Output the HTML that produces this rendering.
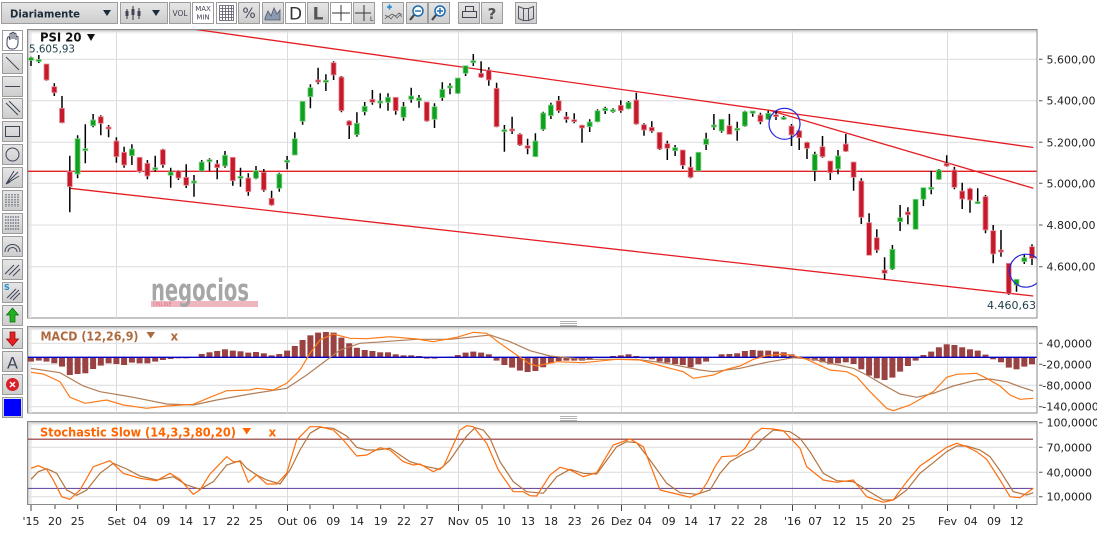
<!DOCTYPE html>
<html><head><meta charset="utf-8">
<style>
html,body{margin:0;padding:0;background:#fff;width:1097px;height:534px;overflow:hidden}
svg{display:block}
text{font-family:"DejaVu Sans","Liberation Sans",sans-serif}
</style></head><body>
<svg width="1097" height="534" viewBox="0 0 1097 534" xmlns="http://www.w3.org/2000/svg">
<defs>
<linearGradient id="gt" x1="0" y1="0" x2="0" y2="1"><stop offset="0" stop-color="#bdbdbd"/><stop offset="1" stop-color="#ffffff" stop-opacity="0"/></linearGradient>
<linearGradient id="gl" x1="0" y1="0" x2="1" y2="0"><stop offset="0" stop-color="#c4c4c4"/><stop offset="1" stop-color="#ffffff" stop-opacity="0"/></linearGradient>
<linearGradient id="gb" x1="0" y1="0" x2="0" y2="1"><stop offset="0" stop-color="#e6e6e6"/><stop offset="1" stop-color="#cdcdcd"/></linearGradient>
<clipPath id="cm"><rect x="28" y="30" width="1009" height="288"/></clipPath>
<clipPath id="cmacd"><rect x="28" y="327" width="1009" height="86"/></clipPath>
<clipPath id="cst"><rect x="28" y="422" width="1009" height="82"/></clipPath>
</defs>

<!-- TOP TOOLBAR -->
<g stroke="#9c9c9c" stroke-width="1">
<rect x="1.5" y="2.5" width="116" height="21" fill="url(#gb)"/>
<rect x="120.5" y="2.5" width="47" height="21" fill="url(#gb)"/>
<rect x="169.5" y="2.5" width="21" height="21" fill="url(#gb)"/>
<rect x="192.5" y="2.5" width="21" height="21" fill="#fff"/>
<rect x="216.5" y="2.5" width="20" height="21" fill="#fff"/>
<rect x="238.5" y="2.5" width="21" height="21" fill="url(#gb)"/>
<rect x="262.5" y="2.5" width="21" height="21" fill="url(#gb)"/>
<rect x="285.5" y="2.5" width="20" height="21" fill="#fff"/>
<rect x="307.5" y="2.5" width="21" height="21" fill="url(#gb)"/>
<rect x="330.5" y="2.5" width="21" height="21" fill="#fff"/>
<rect x="353.5" y="2.5" width="21" height="21" fill="url(#gb)"/>
<rect x="382.5" y="2.5" width="21" height="21" fill="url(#gb)"/>
<rect x="406.5" y="2.5" width="21" height="21" fill="url(#gb)"/>
<rect x="428.5" y="2.5" width="21" height="21" fill="url(#gb)"/>
<rect x="458.5" y="2.5" width="21" height="21" fill="url(#gb)"/>
<rect x="481.5" y="2.5" width="21" height="21" fill="url(#gb)"/>
<rect x="515.5" y="2.5" width="21" height="21" fill="url(#gb)"/>
</g>
<text x="10" y="17.5" font-size="11" font-weight="bold" fill="#1c2c3a" textLength="70" lengthAdjust="spacingAndGlyphs">Diariamente</text>
<path d="M103 10h8l-4 6z" fill="#1c2c3a"/>
<g stroke="#333" stroke-width="1"><path d="M127 9v10M133 6v14M139 8v11"/></g>
<g fill="#445"><rect x="125.5" y="11" width="3" height="5"/><rect x="131.5" y="9" width="3" height="6"/><rect x="137.5" y="11" width="3" height="5"/></g>
<path d="M152 10h8l-4 6z" fill="#1c2c3a"/>
<text x="180" y="16" font-size="7.5" fill="#445" text-anchor="middle">VOL</text>
<text x="203" y="11" font-size="7" fill="#445" text-anchor="middle">MAX</text>
<text x="203" y="19.5" font-size="7" fill="#445" text-anchor="middle">MIN</text>
<g stroke="#556" stroke-width="0.8" fill="none"><rect x="219.5" y="5.5" width="14" height="15"/><path d="M222.5 6v14M225.5 6v14M228.5 6v14M231.5 6v14M220 8.5h13M220 11.5h13M220 14.5h13M220 17.5h13"/></g>
<text x="249" y="18" font-size="14" fill="#445" text-anchor="middle">%</text>
<path d="M265 18l3-7 3 5 3-8 3 6 3-4v10h-15z" fill="#8a9ab0" stroke="#556" stroke-width="0.8"/>
<text x="295.5" y="19.5" font-size="17" fill="#333" text-anchor="middle">D</text>
<text x="318" y="19.5" font-size="17" font-weight="bold" fill="#555" text-anchor="middle">L</text>
<path d="M341 5v16M332 13h18" stroke="#333" stroke-width="1"/>
<path d="M364 5v16M355 13h16" stroke="#333" stroke-width="1"/><text x="370" y="21" font-size="6" fill="#333">L</text>
<path d="M387 7h5M389.5 4.5v5" stroke="#1a8ad0" stroke-width="1.6"/><path d="M385 19l3-3 3 3 3-4 3 3 3-3 2 2M385 15l3 2 4-3 4 2 3-3 3 2" stroke="#666" stroke-width="0.8" fill="none"/>
<circle cx="418" cy="11" r="5" fill="#fff" stroke="#1a6ab0" stroke-width="1.5"/><path d="M415 11h6" stroke="#1a6ab0" stroke-width="1.4"/><path d="M414 15l-4 5" stroke="#444" stroke-width="2.2"/>
<circle cx="440" cy="11" r="5" fill="#fff" stroke="#1a6ab0" stroke-width="1.5"/><path d="M437 11h6M440 8v6" stroke="#1a6ab0" stroke-width="1.4"/><path d="M436 15l-4 5" stroke="#444" stroke-width="2.2"/>
<g fill="none" stroke="#445" stroke-width="1"><rect x="462.5" y="11.5" width="14" height="6"/><rect x="465.5" y="6.5" width="8" height="5"/><path d="M465 17.5h8"/></g>
<text x="492" y="19" font-size="15" font-weight="bold" fill="#555" text-anchor="middle">?</text>
<g fill="none" stroke="#556" stroke-width="1"><path d="M518.5 6.5l5 2v12l-5-2zM533.5 6.5l-5 2v12l5-2zM523.5 8.5h5v12h-5z"/></g>

<!-- LEFT TOOLBAR -->
<g stroke="#9c9c9c" stroke-width="1" fill="url(#gb)">
<rect x="2.5" y="30.5" width="20" height="20" fill="#fff"/>
<rect x="2.5" y="53.5" width="20" height="20"/>
<rect x="2.5" y="76.5" width="20" height="20"/>
<rect x="2.5" y="98.5" width="20" height="20"/>
<rect x="2.5" y="121.5" width="20" height="20"/>
<rect x="2.5" y="144.5" width="20" height="20"/>
<rect x="2.5" y="167.5" width="20" height="20"/>
<rect x="2.5" y="190.5" width="20" height="20"/>
<rect x="2.5" y="213.5" width="20" height="20"/>
<rect x="2.5" y="236.5" width="20" height="20"/>
<rect x="2.5" y="259.5" width="20" height="20"/>
<rect x="2.5" y="282.5" width="20" height="20"/>
<rect x="2.5" y="305.5" width="20" height="20"/>
<rect x="2.5" y="328.5" width="20" height="20"/>
<rect x="2.5" y="351.5" width="20" height="20"/>
<rect x="2.5" y="374.5" width="20" height="20"/>
<rect x="2.5" y="397.5" width="20" height="20"/>
</g>
<g fill="none" stroke="#3e4658" stroke-width="1">
<path d="M7 42c0-4 1-6 2-5l1 3v-6c0-1 2-1 2 0v5-6c0-1 2-1 2 0v6-5c0-1 2-1 2 0v6-3c0-1 2-1 2 0v6c0 3-2 6-5 6h-2c-2 0-3-2-4-4z"/>
<path d="M6 57l13 13"/>
<path d="M5 86.5h15"/>
<path d="M6 103l12 12M9 101l11 11"/>
<rect x="5.5" y="126.5" width="14" height="10"/>
<circle cx="12.5" cy="154.5" r="6.5"/>
<path d="M6 184l12-12M6 184l13-8M6 184l8-13M6 184l4-2"/>
<path d="M6 194v13M9 194v13M12 194v13M15 194v13M18 194v13" stroke-dasharray="1.5 1"/>
<path d="M5 217h15M5 220h15M5 223h15M5 226h15M5 229h15" stroke-dasharray="1.5 1"/>
<path d="M5 252c0-10 15-10 15 0M8 252c0-6 9-6 9 0"/>
<path d="M5 274l9-9M9 275l10-10M13 276l7-7"/>
<path d="M7 298l9-9M10 299l9-9M13 300l7-7"/>
</g>
<text x="4" y="290" font-size="8" font-weight="bold" fill="#1a8ad0">S</text>
<path d="M12.5 308l6 7h-3.5v7h-5v-7h-3.5z" fill="#20b020" stroke="#0a6a0a" stroke-width="0.7"/>
<path d="M12.5 346l6-7h-3.5v-7h-5v7h-3.5z" fill="#e82020" stroke="#8a0a0a" stroke-width="0.7"/>
<text x="12.5" y="368.5" font-size="16" fill="#3e4658" text-anchor="middle">A</text>
<circle cx="12.5" cy="384.5" r="6.5" fill="#d8202a"/><path d="M10 382l5 5M15 382l-5 5" stroke="#fff" stroke-width="1.4"/>
<rect x="4" y="399" width="17" height="17" fill="#0000ff"/>

<!-- MAIN PANEL -->
<rect x="27.5" y="29.5" width="1009.5" height="288.5" fill="#fff" stroke="#8a8a8a"/>
<g stroke="#dcdcdc" stroke-width="1">
<path d="M28 59.3h1009M28 100.7h1009M28 142.3h1009M28 183.3h1009M28 225h1009M28 266.7h1009"/>
<path d="M31 30v288M116.5 30v288M287.5 30v288M458.5 30v288M621.5 30v288M792.5 30v288M947.5 30v288"/>
</g>
<rect x="28" y="30" width="1009" height="5" fill="url(#gt)"/>
<rect x="28" y="30" width="4" height="288" fill="url(#gl)"/>

<!-- watermark -->
<rect x="151" y="301" width="107" height="6" fill="#f0b6c0"/>
<text x="151" y="300.5" font-family="Liberation Sans,sans-serif" font-size="30" font-weight="bold" fill="#a6a6a6" textLength="98" lengthAdjust="spacingAndGlyphs">negocios</text>
<text x="153" y="306" font-size="5" fill="#d87a88">ONLINE</text>

<g clip-path="url(#cm)">
<!-- trend lines -->
<g stroke="#e41e24" stroke-width="1.3" fill="none">
<path d="M27 171.3h1010"/>
<path d="M196 29.5L1033.3 147.5"/>
<path d="M770 110.4L1033.3 188.3"/>
<path d="M70 188.3L1033.3 296"/>
</g>
<!-- wicks -->
<path stroke="#000" stroke-width="1.5" fill="none" d="M31 56.7V66M38.8 55V63M46.5 64V80.7M54.3 83.3V96M62 96V123.3M69.8 155.7V212.3M77.6 135.3V178.3M85.3 124.3V163.3M93.1 114V127.3M100.8 115.3V135.3M108.6 125V137.3M116.4 137.3V162.7M124.1 146.7V167.7M131.9 144.3V165M139.6 157.3V172.7M147.4 160V179.3M155.2 155.7V171.7M162.9 148.7V167.7M170.7 167.7V187.7M178.4 170V180M186.2 164.3V188M194 175V196.7M201.7 160V171.7M209.5 158.3V170.7M217.2 160V179.3M225 151V167.7M232.8 157.3V185.7M240.5 167.7V186.7M248.3 173.3V195.7M256 166V179.3M263.8 169V191.7M271.6 190.7V205.7M279.3 172.7V191.7M287.1 156V169.3M294.8 132.3V155.3M302.6 101.3V124.7M310.4 84.3V108.3M318.1 67.7V84.3M325.9 74.3V91M333.6 61.3V80M341.4 76V112.3M349.2 120.3V139M356.9 112.3V136.7M364.7 102V115.3M372.4 90V104.7M380.2 93.3V108.3M388 93.3V110.7M395.7 97.3V114.7M403.5 102V120.7M411.2 87.7V102.7M419 95V107.7M426.8 102V121.7M434.5 103.3V128M442.3 82.3V100.7M450 83.3V94.3M457.8 78V94M465.6 65.7V76M473.3 54V66M481.1 61.3V78M488.8 67.3V85.7M496.6 82.7V127.3M504.4 125V151.7M512.1 116.7V134M519.9 133.3V146M527.6 138.7V154.3M535.4 133.3V156.7M543.2 111.7V130.7M550.9 102.7V119M558.7 96V112.7M566.4 112V122.7M574.2 113.3V123.3M582 124.7V142.7M589.7 119.3V132M597.5 109.3V122.3M605.2 106.7V114M613 108.3V112.7M620.8 100.3V112.7M628.5 101V109.3M636.3 92.7V124.7M644 123.3V135.7M651.8 121.3V132.7M659.6 132.3V150M667.3 140.7V160M675.1 145V156M682.8 150V169M690.6 156.7V178.3M698.4 152.3V171M706.1 132.7V150M713.9 114V130M721.6 119.3V132.7M729.4 114V134.3M737.2 121.7V140.7M744.9 110.7V126.7M752.7 111V116.7M760.4 112.7V124.3M768.2 110.7V120M776 110.7V120M783.7 116V120M791.5 124V146M799.2 130V150M807 141.7V159M814.8 151.7V181M822.5 136V157.7M830.3 161V180M838 150V174.3M845.8 134V152M853.6 162V190.7M861.3 178.3V224M869.1 213.3V255.3M876.8 229.3V252.7M884.6 257.3V279.3M892.4 245V270M900.1 205V231M907.9 207.3V224.3M915.6 199.3V229.3M923.4 187.7V206M931.2 170.7V194.3M938.9 169V180M946.7 155.3V166.7M954.4 166.7V189.3M962.2 182.7V209M970 187.7V212.7M977.7 188.3V203.3M985.5 195V233.3M993.2 225V263.3M1001 230V256.7M1008.8 263.3V295M1016.5 279.3V291.7M1024.3 254.3V264M1032 244.3V265"/>
<!-- red bodies -->
<g fill="#c61a2a" stroke="#e896a0" stroke-width="0.8">
<rect x="44" y="64" width="5" height="16"/>
<rect x="51.8" y="86.7" width="5" height="6"/>
<rect x="59.5" y="108.3" width="5" height="14.4"/>
<rect x="67.3" y="171.7" width="5" height="15"/>
<rect x="98.3" y="116.7" width="5" height="6.6"/>
<rect x="106.1" y="127" width="5" height="2"/>
<rect x="113.9" y="141" width="5" height="15.7"/>
<rect x="121.6" y="152.3" width="5" height="12.7"/>
<rect x="137.1" y="157.3" width="5" height="14.4"/>
<rect x="144.9" y="163.3" width="5" height="12.7"/>
<rect x="160.4" y="149.7" width="5" height="15"/>
<rect x="175.9" y="170.7" width="5" height="7.3"/>
<rect x="183.7" y="177.3" width="5" height="8"/>
<rect x="214.7" y="164" width="5" height="3.7"/>
<rect x="230.3" y="157.3" width="5" height="23.4"/>
<rect x="245.8" y="178" width="5" height="13.7"/>
<rect x="261.3" y="172.3" width="5" height="17.7"/>
<rect x="269.1" y="198.3" width="5" height="6.7"/>
<rect x="315.6" y="80" width="5" height="2"/>
<rect x="331.1" y="62.7" width="5" height="12.3"/>
<rect x="338.9" y="77" width="5" height="33.7"/>
<rect x="346.7" y="121" width="5" height="4.3"/>
<rect x="369.9" y="99.3" width="5" height="3"/>
<rect x="393.2" y="97.3" width="5" height="13.4"/>
<rect x="424.3" y="102" width="5" height="19"/>
<rect x="478.6" y="73.3" width="5" height="4"/>
<rect x="486.3" y="70" width="5" height="10"/>
<rect x="494.1" y="88.3" width="5" height="38.4"/>
<rect x="509.6" y="129" width="5" height="2"/>
<rect x="517.4" y="134.3" width="5" height="10.7"/>
<rect x="525.1" y="145.7" width="5" height="2.6"/>
<rect x="556.2" y="100.7" width="5" height="10"/>
<rect x="563.9" y="116.7" width="5" height="2.6"/>
<rect x="571.7" y="119.7" width="5" height="2"/>
<rect x="579.5" y="125.3" width="5" height="2.7"/>
<rect x="618.3" y="105.3" width="5" height="5.4"/>
<rect x="633.8" y="100" width="5" height="24"/>
<rect x="641.5" y="124.7" width="5" height="5.3"/>
<rect x="649.3" y="127.3" width="5" height="3.7"/>
<rect x="657.1" y="132.3" width="5" height="16.7"/>
<rect x="664.8" y="143.7" width="5" height="4.6"/>
<rect x="680.3" y="150" width="5" height="15.3"/>
<rect x="688.1" y="167.3" width="5" height="10"/>
<rect x="726.9" y="125.7" width="5" height="8.6"/>
<rect x="757.9" y="115" width="5" height="6.7"/>
<rect x="773.5" y="114.7" width="5" height="2"/>
<rect x="789" y="126" width="5" height="9"/>
<rect x="796.7" y="130.7" width="5" height="7"/>
<rect x="804.5" y="142.3" width="5" height="6"/>
<rect x="820" y="146.7" width="5" height="10"/>
<rect x="827.8" y="161" width="5" height="11.7"/>
<rect x="843.3" y="144" width="5" height="7.3"/>
<rect x="851.1" y="162" width="5" height="15.3"/>
<rect x="858.8" y="181" width="5" height="36.3"/>
<rect x="866.6" y="222.7" width="5" height="32.6"/>
<rect x="874.3" y="237.7" width="5" height="12.3"/>
<rect x="882.1" y="270" width="5" height="3.3"/>
<rect x="905.4" y="212" width="5" height="2.7"/>
<rect x="944.2" y="163.3" width="5" height="2.7"/>
<rect x="951.9" y="170" width="5" height="17.3"/>
<rect x="959.7" y="191" width="5" height="8"/>
<rect x="967.5" y="188.7" width="5" height="11.3"/>
<rect x="983" y="196.7" width="5" height="33.3"/>
<rect x="990.7" y="230.7" width="5" height="23.3"/>
<rect x="998.5" y="250" width="5" height="2"/>
<rect x="1006.3" y="263.3" width="5" height="30.7"/>
<rect x="1029.5" y="246.7" width="5" height="11.6"/>
</g>
<!-- green bodies -->
<g fill="#10a020" stroke="#86d48c" stroke-width="0.8">
<rect x="28.5" y="57.7" width="5" height="2.6"/>
<rect x="36.3" y="59.5" width="5" height="2"/>
<rect x="75.1" y="138.7" width="5" height="35.3"/>
<rect x="82.8" y="148.7" width="5" height="2"/>
<rect x="90.6" y="120" width="5" height="5.7"/>
<rect x="129.4" y="149" width="5" height="6.7"/>
<rect x="152.7" y="167.7" width="5" height="2"/>
<rect x="168.2" y="172" width="5" height="3.3"/>
<rect x="191.5" y="181" width="5" height="2"/>
<rect x="199.2" y="162" width="5" height="9"/>
<rect x="207" y="159.7" width="5" height="2"/>
<rect x="222.5" y="155.3" width="5" height="10.7"/>
<rect x="238" y="176.3" width="5" height="2"/>
<rect x="253.5" y="170.7" width="5" height="7.6"/>
<rect x="276.8" y="174" width="5" height="14.3"/>
<rect x="284.6" y="160.3" width="5" height="2"/>
<rect x="292.3" y="138.7" width="5" height="16.3"/>
<rect x="300.1" y="101.3" width="5" height="20"/>
<rect x="307.9" y="87.7" width="5" height="9"/>
<rect x="323.4" y="80.3" width="5" height="2"/>
<rect x="354.4" y="123.3" width="5" height="11.4"/>
<rect x="362.2" y="106.3" width="5" height="5.4"/>
<rect x="377.7" y="101" width="5" height="2"/>
<rect x="385.5" y="97.3" width="5" height="5"/>
<rect x="401" y="106.7" width="5" height="10.6"/>
<rect x="408.7" y="96" width="5" height="3.3"/>
<rect x="416.5" y="98" width="5" height="2.7"/>
<rect x="432" y="106.7" width="5" height="12.6"/>
<rect x="439.8" y="89.3" width="5" height="8.4"/>
<rect x="447.5" y="86" width="5" height="2"/>
<rect x="455.3" y="78" width="5" height="15.3"/>
<rect x="463.1" y="65.7" width="5" height="7.6"/>
<rect x="470.8" y="60.7" width="5" height="2"/>
<rect x="501.9" y="129.7" width="5" height="2"/>
<rect x="532.9" y="141" width="5" height="15.7"/>
<rect x="540.7" y="113" width="5" height="16.3"/>
<rect x="548.4" y="105" width="5" height="10.7"/>
<rect x="587.2" y="122" width="5" height="4.7"/>
<rect x="595" y="110.7" width="5" height="11"/>
<rect x="602.7" y="108.3" width="5" height="2.4"/>
<rect x="610.5" y="109.7" width="5" height="2"/>
<rect x="626" y="102.3" width="5" height="6.4"/>
<rect x="672.6" y="147.7" width="5" height="3"/>
<rect x="695.9" y="152.3" width="5" height="18.7"/>
<rect x="703.6" y="139" width="5" height="5.5"/>
<rect x="711.4" y="125" width="5" height="2"/>
<rect x="719.1" y="119.3" width="5" height="11.7"/>
<rect x="734.7" y="128.3" width="5" height="2"/>
<rect x="742.4" y="111.7" width="5" height="14.3"/>
<rect x="750.2" y="111" width="5" height="2.3"/>
<rect x="765.7" y="113.3" width="5" height="6"/>
<rect x="781.2" y="117.3" width="5" height="2"/>
<rect x="812.3" y="154.3" width="5" height="16.4"/>
<rect x="835.5" y="156" width="5" height="13"/>
<rect x="889.9" y="249.3" width="5" height="19.7"/>
<rect x="897.6" y="217.7" width="5" height="4"/>
<rect x="913.1" y="199.3" width="5" height="30"/>
<rect x="920.9" y="187.7" width="5" height="11.6"/>
<rect x="928.7" y="187.3" width="5" height="2"/>
<rect x="936.4" y="170" width="5" height="9.3"/>
<rect x="975.2" y="201.7" width="5" height="2"/>
<rect x="1014" y="279.3" width="5" height="5.7"/>
<rect x="1021.8" y="257.7" width="5" height="4"/>
</g>
<!-- circles -->
<circle cx="784.5" cy="123.8" r="15.5" fill="none" stroke="#2424e0" stroke-width="1.2"/>
<circle cx="1026" cy="270.7" r="16.5" fill="none" stroke="#2424e0" stroke-width="1.2"/>
</g>
<line x1="1037" y1="29" x2="1037" y2="318" stroke="#8a8a8a"/>

<text x="40" y="41.7" font-size="12.5" font-weight="bold" fill="#111" textLength="41.5" lengthAdjust="spacingAndGlyphs">PSI 20</text>
<path d="M87 34h8l-4 7z" fill="#111"/>
<text x="29" y="52.5" font-size="11" fill="#1c3c48" textLength="46" lengthAdjust="spacingAndGlyphs">5.605,93</text>
<text x="987" y="309" font-size="11" fill="#1c3c48" textLength="49" lengthAdjust="spacingAndGlyphs">4.460,63</text>

<!-- main right axis -->
<g stroke="#555" stroke-width="1"><path d="M1039 59.3h3.5M1039 100.7h3.5M1039 142.3h3.5M1039 183.3h3.5M1039 225h3.5M1039 266.7h3.5"/></g>
<g font-size="11" fill="#222">
<text x="1046.5" y="63.3">5.600,00</text>
<text x="1046.5" y="104.7">5.400,00</text>
<text x="1046.5" y="146.3">5.200,00</text>
<text x="1046.5" y="187.3">5.000,00</text>
<text x="1046.5" y="229">4.800,00</text>
<text x="1046.5" y="270.7">4.600,00</text>
</g>

<!-- grips -->
<g stroke="#9a9a9a" stroke-width="0.8"><path d="M560 321.5h17M560 323.5h17M560 325.5h17M560 416.5h17M560 418.5h17M560 420.5h17"/></g>

<!-- MACD PANEL -->
<rect x="27.5" y="326.5" width="1009.5" height="86.5" fill="#fff" stroke="#8a8a8a"/>
<g stroke="#dcdcdc" stroke-width="1">
<path d="M28 343.3h1009M28 364.3h1009M28 385.3h1009M28 406.7h1009"/>
<path d="M31 327v86M116.5 327v86M287.5 327v86M458.5 327v86M621.5 327v86M792.5 327v86M947.5 327v86"/>
</g>
<rect x="28" y="327" width="1009" height="5" fill="url(#gt)"/>
<rect x="28" y="327" width="4" height="86" fill="url(#gl)"/>
<g clip-path="url(#cmacd)">
<g fill="#9a4242">
<rect x="28" y="357.3" width="6" height="4.3"/>
<rect x="35.8" y="357.3" width="6" height="3.3"/>
<rect x="43.5" y="357.3" width="6" height="4.3"/>
<rect x="51.3" y="357.3" width="6" height="6"/>
<rect x="59" y="357.3" width="6" height="9.3"/>
<rect x="66.8" y="357.3" width="6" height="17.7"/>
<rect x="74.6" y="357.3" width="6" height="16.7"/>
<rect x="82.3" y="357.3" width="6" height="16"/>
<rect x="90.1" y="357.3" width="6" height="11.7"/>
<rect x="97.8" y="357.3" width="6" height="8.3"/>
<rect x="105.6" y="357.3" width="6" height="6"/>
<rect x="113.4" y="357.3" width="6" height="6.7"/>
<rect x="121.1" y="357.3" width="6" height="7.7"/>
<rect x="128.9" y="357.3" width="6" height="5.3"/>
<rect x="136.6" y="357.3" width="6" height="6"/>
<rect x="144.4" y="357.3" width="6" height="6"/>
<rect x="152.2" y="357.3" width="6" height="4.3"/>
<rect x="159.9" y="357.3" width="6" height="2.7"/>
<rect x="167.7" y="357.3" width="6" height="1.7"/>
<rect x="175.4" y="357.3" width="6" height="1"/>
<rect x="183.2" y="357.3" width="6" height="1"/>
<rect x="198.7" y="354" width="6" height="3.3"/>
<rect x="206.5" y="352.3" width="6" height="5"/>
<rect x="214.2" y="351" width="6" height="6.3"/>
<rect x="222" y="349.3" width="6" height="8"/>
<rect x="229.8" y="350.6" width="6" height="6.7"/>
<rect x="237.5" y="351.3" width="6" height="6"/>
<rect x="245.3" y="352.6" width="6" height="4.7"/>
<rect x="253" y="352" width="6" height="5.3"/>
<rect x="260.8" y="353.3" width="6" height="4"/>
<rect x="268.6" y="355.3" width="6" height="2"/>
<rect x="276.3" y="354" width="6" height="3.3"/>
<rect x="284.1" y="350.6" width="6" height="6.7"/>
<rect x="291.8" y="346" width="6" height="11.3"/>
<rect x="299.6" y="340" width="6" height="17.3"/>
<rect x="307.4" y="335.3" width="6" height="22"/>
<rect x="315.1" y="332.6" width="6" height="24.7"/>
<rect x="322.9" y="332" width="6" height="25.3"/>
<rect x="330.6" y="332.6" width="6" height="24.7"/>
<rect x="338.4" y="337.6" width="6" height="19.7"/>
<rect x="346.2" y="343.3" width="6" height="14"/>
<rect x="353.9" y="347.8" width="6" height="9.5"/>
<rect x="361.7" y="350" width="6" height="7.3"/>
<rect x="369.4" y="351" width="6" height="6.3"/>
<rect x="377.2" y="352.3" width="6" height="5"/>
<rect x="385" y="352.3" width="6" height="5"/>
<rect x="392.7" y="354.3" width="6" height="3"/>
<rect x="400.5" y="355.3" width="6" height="2"/>
<rect x="408.2" y="355.3" width="6" height="2"/>
<rect x="416" y="356" width="6" height="1.3"/>
<rect x="423.8" y="357.3" width="6" height="1.3"/>
<rect x="431.5" y="357.3" width="6" height="1.3"/>
<rect x="447" y="356.6" width="6" height="0.7"/>
<rect x="454.8" y="355" width="6" height="2.3"/>
<rect x="462.6" y="352.6" width="6" height="4.7"/>
<rect x="470.3" y="351.6" width="6" height="5.7"/>
<rect x="478.1" y="352.6" width="6" height="4.7"/>
<rect x="485.8" y="354.3" width="6" height="3"/>
<rect x="493.6" y="357.3" width="6" height="3.3"/>
<rect x="501.4" y="357.3" width="6" height="7.7"/>
<rect x="509.1" y="357.3" width="6" height="10.3"/>
<rect x="516.9" y="357.3" width="6" height="13.3"/>
<rect x="524.6" y="357.3" width="6" height="14.7"/>
<rect x="532.4" y="357.3" width="6" height="13.7"/>
<rect x="540.2" y="357.3" width="6" height="10"/>
<rect x="547.9" y="357.3" width="6" height="6"/>
<rect x="555.7" y="357.3" width="6" height="3.7"/>
<rect x="563.4" y="357.3" width="6" height="3.3"/>
<rect x="571.2" y="357.3" width="6" height="3.3"/>
<rect x="579" y="357.3" width="6" height="3.3"/>
<rect x="586.7" y="357.3" width="6" height="2.7"/>
<rect x="610" y="356" width="6" height="1.3"/>
<rect x="617.8" y="355.3" width="6" height="2"/>
<rect x="625.5" y="354.3" width="6" height="3"/>
<rect x="633.3" y="356" width="6" height="1.3"/>
<rect x="641" y="357.3" width="6" height="1"/>
<rect x="648.8" y="357.3" width="6" height="2"/>
<rect x="656.6" y="357.3" width="6" height="4.3"/>
<rect x="664.3" y="357.3" width="6" height="5.3"/>
<rect x="672.1" y="357.3" width="6" height="6.7"/>
<rect x="679.8" y="357.3" width="6" height="7.7"/>
<rect x="687.6" y="357.3" width="6" height="10"/>
<rect x="695.4" y="357.3" width="6" height="7"/>
<rect x="703.1" y="357.3" width="6" height="4.3"/>
<rect x="718.6" y="354.3" width="6" height="3"/>
<rect x="726.4" y="354" width="6" height="3.3"/>
<rect x="734.2" y="353.3" width="6" height="4"/>
<rect x="741.9" y="351" width="6" height="6.3"/>
<rect x="749.7" y="350" width="6" height="7.3"/>
<rect x="757.4" y="350.6" width="6" height="6.7"/>
<rect x="765.2" y="350.6" width="6" height="6.7"/>
<rect x="773" y="351.6" width="6" height="5.7"/>
<rect x="780.7" y="352.3" width="6" height="5"/>
<rect x="788.5" y="354.3" width="6" height="3"/>
<rect x="796.2" y="356.6" width="6" height="0.7"/>
<rect x="804" y="357.3" width="6" height="1.3"/>
<rect x="811.8" y="357.3" width="6" height="3.3"/>
<rect x="819.5" y="357.3" width="6" height="5"/>
<rect x="827.3" y="357.3" width="6" height="7"/>
<rect x="835" y="357.3" width="6" height="6"/>
<rect x="842.8" y="357.3" width="6" height="5"/>
<rect x="850.6" y="357.3" width="6" height="6.7"/>
<rect x="858.3" y="357.3" width="6" height="12"/>
<rect x="866.1" y="357.3" width="6" height="18.3"/>
<rect x="873.8" y="357.3" width="6" height="21"/>
<rect x="881.6" y="357.3" width="6" height="22.7"/>
<rect x="889.4" y="357.3" width="6" height="20.3"/>
<rect x="897.1" y="357.3" width="6" height="14.3"/>
<rect x="904.9" y="357.3" width="6" height="8.7"/>
<rect x="912.6" y="357.3" width="6" height="3.3"/>
<rect x="920.4" y="355" width="6" height="2.3"/>
<rect x="928.2" y="351.6" width="6" height="5.7"/>
<rect x="935.9" y="347.3" width="6" height="10"/>
<rect x="943.7" y="344.3" width="6" height="13"/>
<rect x="951.4" y="345" width="6" height="12.3"/>
<rect x="959.2" y="347.3" width="6" height="10"/>
<rect x="967" y="349.3" width="6" height="8"/>
<rect x="974.7" y="350.6" width="6" height="6.7"/>
<rect x="982.5" y="354.6" width="6" height="2.7"/>
<rect x="990.2" y="357.3" width="6" height="2"/>
<rect x="998" y="357.3" width="6" height="5"/>
<rect x="1005.8" y="357.3" width="6" height="10.3"/>
<rect x="1013.5" y="357.3" width="6" height="12"/>
<rect x="1021.3" y="357.3" width="6" height="9.3"/>
<rect x="1029" y="357.3" width="6" height="7"/>
</g>
<path d="M28 357.3h1009" stroke="#0000c8" stroke-width="1.3"/>
<polyline fill="none" stroke="#b27e58" stroke-width="1.2" points="31,368.3 60,372.7 83.3,386 100,391.7 133.3,397.3 166.7,404 193.3,405 216.7,400 250,394 286.7,388.3 306.7,375 326.7,360 340,350 360,343.3 383.3,341.7 416.7,339.3 450,339.3 490,335 510,341.7 530,350.7 550,356 583.3,359.3 616.7,359.3 636.7,359.3 666.7,363.3 700,370 713.3,371.7 740,368.3 766.7,362.3 793.3,357.7 813.3,359.3 833.3,364 853.3,368.3 866.7,375 886.7,386.7 900,394 916.7,397.3 933.3,393.3 953.3,386 976.7,380 990,379 1006.7,381.7 1020,386.7 1033.3,391"/>
<polyline fill="none" stroke="#ff7a18" stroke-width="1.2" points="31,372.3 43.3,374 60,381.7 70,397.3 85,403.3 106.7,400 123.3,405 146.7,408.3 166.7,406 193.3,404.3 210,397.3 226.7,390.7 250,390 256.7,388.3 273.3,390 286.7,383.3 300,370 310,353.3 320,340 333.3,334 350,338.3 366.7,338.7 390,336.7 416.7,339 433.3,341.7 456.7,337.3 473.3,332.3 486.7,333.3 500,343.3 516.7,355 530,364 536.7,366 556.7,361.7 583.3,362.7 616.7,359.3 640,360 670,368.3 683.3,371.7 693.3,378.3 703.3,376.7 713.3,375 726.7,369.3 740,366 753.3,359.3 766.7,355.7 783.3,354 793.3,355.7 806.7,359.3 830,370 846.7,371.7 856.7,376.7 870,391.7 886.7,408.3 893.3,410.7 910,405 933.3,391.7 946.7,377.3 956.7,374.3 976.7,373.3 986.7,378.3 1000,386 1010,395 1020,399.3 1033.3,398.3"/>
</g>
<line x1="1037" y1="326" x2="1037" y2="413" stroke="#8a8a8a"/>
<text x="40.5" y="340.5" font-size="12" font-weight="bold" fill="#ad6a3e" textLength="98" lengthAdjust="spacingAndGlyphs">MACD (12,26,9)</text>
<path d="M146.5 332h8.5l-4.25 6.5z" fill="#ad6a3e"/>
<text x="170.5" y="340.5" font-size="12" font-weight="bold" fill="#ad6a3e">x</text>
<g stroke="#555" stroke-width="1"><path d="M1039 343.3h3.5M1039 364.3h3.5M1039 385.3h3.5M1039 406.7h3.5"/></g>
<g font-size="11" fill="#222">
<text x="1046.5" y="347.3">40,0000</text>
<text x="1042.3" y="368.3">-20,0000</text>
<text x="1042.3" y="389.3">-80,0000</text>
<text x="1042.3" y="410.7">-140,0000</text>
</g>

<!-- STOCH PANEL -->
<rect x="27.5" y="421.5" width="1009.5" height="83" fill="#fff" stroke="#8a8a8a"/>
<g stroke="#dcdcdc" stroke-width="1">
<path d="M28 447.3h1009M28 472.3h1009M28 496.7h1009"/>
<path d="M31 422v82M116.5 422v82M287.5 422v82M458.5 422v82M621.5 422v82M792.5 422v82M947.5 422v82"/>
</g>
<rect x="28" y="422" width="1009" height="5" fill="url(#gt)"/>
<rect x="28" y="422" width="4" height="82" fill="url(#gl)"/>
<g clip-path="url(#cst)">
<path d="M28 439.2h1005" stroke="#8b3434" stroke-width="1.1"/>
<path d="M28 488.4h1005" stroke="#7050a4" stroke-width="1.1"/>
<polyline fill="none" stroke="#b2743f" stroke-width="1.2" points="31,479.3 38.3,471.7 46.7,468.7 56.7,473.3 66.7,490 76.7,495.3 86.7,490 100,473.3 113.3,463.3 126.7,469 140,476 156.7,480 173.3,476.7 186.7,485 200,489.3 213.3,481.7 226.7,465 240,460.7 246.7,468.3 256.7,475 266.7,480 280,484 290,470 300,450 310,433.3 320,427.3 333.3,428.3 346.7,436 356.7,447.3 366.7,450 376.7,450 390,448.3 410,461.7 426.7,466.7 440,469.3 450,460 466.7,436 475,427.7 483.3,430 490,438.3 500,461.7 513.3,481.7 526.7,491.7 543.3,493.3 556.7,476.7 570,469.3 583.3,473.3 596.7,474 616.7,446.7 626.7,441.7 636.7,442.7 650,460 666.7,483.3 680,492.7 696.7,494.3 710,490 720,473.3 730,461.7 743.3,454 753.3,449.3 763.3,438.3 773.3,430 790,431.7 800,438.3 810,451.7 823.3,473.3 836.7,480.7 853.3,481.7 866.7,490 883.3,500 893.3,500 906.7,490 920,473.3 933.3,462.7 946.7,451.7 956.7,446 966.7,446 980,450 990,456.7 1000,470.7 1013.3,491.7 1026.7,495 1033.3,492.7"/>
<polyline fill="none" stroke="#ff6e0e" stroke-width="1.2" points="31,468.3 38.3,465.7 46.7,469.3 53.3,480 61.7,496.7 70,499.3 80,490 93.3,466.7 110,460.7 123.3,473.3 140,478.3 156.7,480.7 170,473.3 180,479.3 193.3,494.3 200,490 210,474 226.7,456.7 233.3,461.7 240,461.7 248.3,482.3 256.7,475 266.7,484 276.7,484 286.7,473.3 296.7,440 310,426.7 320,426.7 333.3,430 343.3,440 356.7,456 366.7,455 380,447.7 390,450 403.3,461.7 413.3,465 420,464 433.3,471.7 443.3,466.7 460,430 466.7,425.7 473.3,426.7 486.7,443.3 498.3,470 513.3,491.7 523.3,491.7 530,495.7 536.7,496 550,475 560,467.3 570,470 583.3,476.7 596.7,472.7 613.3,445 630,439 643.3,446.7 660,490 676.7,494 690,497.3 700,493 706.7,483.3 715,466.7 721.7,456.7 736.7,455.7 745,448.3 753.3,435 761.7,428.3 773.3,429 783.3,430.7 800,448.3 806.7,466.7 823.3,480 836.7,482.3 853.3,480 866.7,496.7 883.3,502.3 893.3,500 906.7,481.7 920,466 933.3,456.7 946.7,447.3 956.7,443.3 966.7,446.7 976.7,451.7 986.7,459.3 1000,480 1010,496.7 1020,497.7 1033.3,488.3"/>
</g>
<line x1="1037" y1="421" x2="1037" y2="505" stroke="#8a8a8a"/>
<text x="40" y="436.5" font-size="12" font-weight="bold" fill="#ff6600" textLength="196" lengthAdjust="spacingAndGlyphs">Stochastic Slow (14,3,3,80,20)</text>
<path d="M242.5 428h8.5l-4.25 6.5z" fill="#ff6600"/>
<text x="268.5" y="436.5" font-size="12" font-weight="bold" fill="#ff6600">x</text>
<g stroke="#555" stroke-width="1"><path d="M1039 422.7h3.5M1039 447.3h3.5M1039 472.3h3.5M1039 496.7h3.5"/></g>
<g font-size="11" fill="#222">
<text x="1046.5" y="426.7">100,0000</text>
<text x="1046.5" y="451.3">70,0000</text>
<text x="1046.5" y="476.3">40,0000</text>
<text x="1046.5" y="500.7">10,0000</text>
</g>

<!-- X AXIS -->
<g stroke="#444" stroke-width="1">
<path d="M31 505v6M116.5 505v6M287.5 505v6M458.5 505v6M621.5 505v6M792.5 505v6M947.5 505v6"/>
<path d="M55 505v4M77.7 505v4M140 505v4M163.3 505v4M186 505v4M209.3 505v4M233.3 505v4M256 505v4M310 505v4M333.3 505v4M357 505v4M380.7 505v4M404 505v4M427 505v4M482 505v4M504 505v4M528 505v4M551 505v4M574.7 505v4M598 505v4M645 505v4M668.7 505v4M691 505v4M714.7 505v4M738 505v4M760.7 505v4M815.3 505v4M839.3 505v4M862 505v4M885.3 505v4M908.7 505v4M970.7 505v4M994 505v4M1016.7 505v4"/>
</g>
<g font-size="11" fill="#222" text-anchor="middle">
<text x="31" y="525">'15</text>
<text x="55" y="525">20</text>
<text x="77.7" y="525">25</text>
<text x="116.5" y="525">Set</text>
<text x="140" y="525">04</text>
<text x="163.3" y="525">09</text>
<text x="186" y="525">14</text>
<text x="209.3" y="525">17</text>
<text x="233.3" y="525">22</text>
<text x="256" y="525">25</text>
<text x="287.5" y="525">Out</text>
<text x="310" y="525">06</text>
<text x="333.3" y="525">09</text>
<text x="357" y="525">14</text>
<text x="380.7" y="525">19</text>
<text x="404" y="525">22</text>
<text x="427" y="525">27</text>
<text x="458.5" y="525">Nov</text>
<text x="482" y="525">05</text>
<text x="504" y="525">10</text>
<text x="528" y="525">13</text>
<text x="551" y="525">18</text>
<text x="574.7" y="525">23</text>
<text x="598" y="525">26</text>
<text x="621.5" y="525">Dez</text>
<text x="645" y="525">04</text>
<text x="668.7" y="525">09</text>
<text x="691" y="525">14</text>
<text x="714.7" y="525">17</text>
<text x="738" y="525">22</text>
<text x="760.7" y="525">28</text>
<text x="792.5" y="525">'16</text>
<text x="815.3" y="525">07</text>
<text x="839.3" y="525">12</text>
<text x="862" y="525">15</text>
<text x="885.3" y="525">20</text>
<text x="908.7" y="525">25</text>
<text x="947.5" y="525">Fev</text>
<text x="970.7" y="525">04</text>
<text x="994" y="525">09</text>
<text x="1016.7" y="525">12</text>
</g>
</svg>
</body></html>
